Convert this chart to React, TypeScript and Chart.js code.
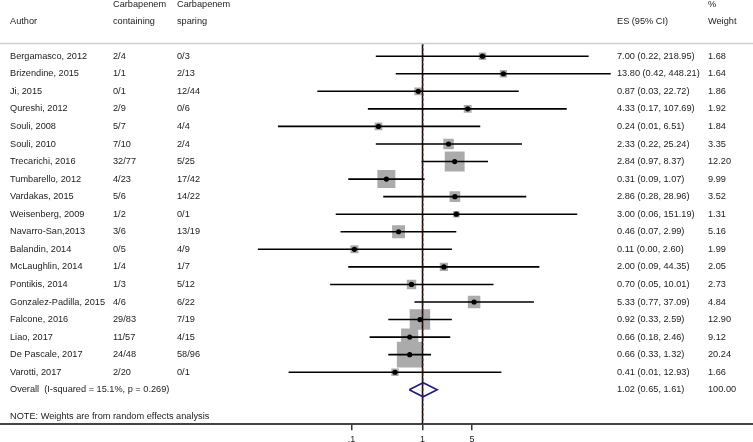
import React, { useEffect, useRef } from "react";
import { Chart, registerables } from "chart.js";

Chart.register(...registerables);

// ---- data ----
const AUTHORS = [
  "Bergamasco, 2012", "Brizendine, 2015", "Ji, 2015", "Qureshi, 2012", "Souli, 2008",
  "Souli, 2010", "Trecarichi, 2016", "Tumbarello, 2012", "Vardakas, 2015", "Weisenberg, 2009",
  "Navarro-San,2013", "Balandin, 2014", "McLaughlin, 2014", "Pontikis, 2014",
  "Gonzalez-Padilla, 2015", "Falcone, 2016", "Liao, 2017", "De Pascale, 2017", "Varotti, 2017",
];
const CONTAINING = ["2/4", "1/1", "0/1", "2/9", "5/7", "7/10", "32/77", "4/23", "5/6", "1/2", "3/6", "0/5", "1/4", "1/3", "4/6", "29/83", "11/57", "24/48", "2/20"];
const SPARING = ["0/3", "2/13", "12/44", "0/6", "4/4", "2/4", "5/25", "17/42", "14/22", "0/1", "13/19", "4/9", "1/7", "5/12", "6/22", "7/19", "4/15", "58/96", "0/1"];
const ES = [7.0, 13.8, 0.87, 4.33, 0.24, 2.33, 2.84, 0.31, 2.86, 3.0, 0.46, 0.11, 2.0, 0.7, 5.33, 0.92, 0.66, 0.66, 0.41];
const CI_LOW = [0.22, 0.42, 0.033, 0.17, 0.0092, 0.22, 0.97, 0.09, 0.28, 0.06, 0.07, 0.0048, 0.09, 0.05, 0.77, 0.33, 0.18, 0.33, 0.013];
const CI_HIGH = [218.95, 448.21, 22.72, 107.69, 6.51, 25.24, 8.37, 1.07, 28.96, 151.19, 2.99, 2.6, 44.35, 10.01, 37.09, 2.59, 2.46, 1.32, 12.93];
const WEIGHTS = [1.68, 1.64, 1.86, 1.92, 1.84, 3.35, 12.2, 9.99, 3.52, 1.31, 5.16, 1.99, 2.05, 2.73, 4.84, 12.9, 9.12, 20.24, 1.66];
const OVERALL_ES = 1.02;
const OVERALL_LOW = 0.65;
const OVERALL_HIGH = 1.61;
const OVERALL_WEIGHT = 100.0;
const OVERALL_LABEL = "Overall  (I-squared = 15.1%, p = 0.269)";
const NOTE = "NOTE: Weights are from random effects analysis";
const NULL_VALUE = 1;
const TICK_VALUES = [0.1, 1, 5];
const TICK_LABELS = [".1", "1", "5"];

// ---- layout ----
const W = 753;
const H = 442;
const X_MIN = 1.12e-6;
const X_MAX = 4.52e4;
const Y_MIN = -3.2;
const Y_MAX = 20.96;
const HEAD1 = -2.92;
const HEAD2 = -1.95;
const HEAD_LINE = -0.744;
const NOTE_ROW = 20.54;
const FONT = '9.2px "Liberation Sans", Arial, sans-serif';
const TEXT = "#222";

export default function App() {
  const ref = useRef<HTMLCanvasElement>(null);

  useEffect(() => {
    document.body.style.margin = "0";
    const canvas = ref.current!;
    const n = AUTHORS.length;
    const overallRow = n;

    const ciData: any[] = [];
    for (let i = 0; i < n; i++) {
      ciData.push({ x: CI_LOW[i], y: i }, { x: CI_HIGH[i], y: i }, { x: null, y: null });
    }
    const pts = ES.map((v, i) => ({ x: v, y: i }));
    const diamond = [
      { x: OVERALL_LOW, y: overallRow },
      { x: OVERALL_ES, y: overallRow - 0.4 },
      { x: OVERALL_HIGH, y: overallRow },
      { x: OVERALL_ES, y: overallRow + 0.4 },
      { x: OVERALL_LOW, y: overallRow },
    ];

    const textPlugin = {
      id: "forestText",
      afterDraw(chart: any) {
        const ctx = chart.ctx;
        const ys = chart.scales.y;
        ctx.save();
        // header rule
        ctx.strokeStyle = "#cfcfcf";
        ctx.lineWidth = 1.5;
        ctx.beginPath();
        const hy = Math.round(ys.getPixelForValue(HEAD_LINE)) + 0.5;
        ctx.moveTo(0, hy);
        ctx.lineTo(W, hy);
        ctx.stroke();

        ctx.font = FONT;
        ctx.fillStyle = TEXT;
        ctx.textBaseline = "middle";
        ctx.textAlign = "left";
        const put = (s: string, x: number, row: number) => ctx.fillText(s, x, ys.getPixelForValue(row));
        put("Carbapenem", 113, HEAD1);
        put("Carbapenem", 177, HEAD1);
        put("%", 708, HEAD1);
        put("Author", 10, HEAD2);
        put("containing", 113, HEAD2);
        put("sparing", 177, HEAD2);
        put("ES (95% CI)", 617, HEAD2);
        put("Weight", 708, HEAD2);
        for (let i = 0; i < n; i++) {
          put(AUTHORS[i], 10, i);
          put(CONTAINING[i], 113, i);
          put(SPARING[i], 177, i);
          put(`${ES[i].toFixed(2)} (${CI_LOW[i].toFixed(2)}, ${CI_HIGH[i].toFixed(2)})`, 617, i);
          put(WEIGHTS[i].toFixed(2), 708, i);
        }
        put(OVERALL_LABEL, 10, overallRow);
        put(`${OVERALL_ES.toFixed(2)} (${OVERALL_LOW.toFixed(2)}, ${OVERALL_HIGH.toFixed(2)})`, 617, overallRow);
        put(OVERALL_WEIGHT.toFixed(2), 708, overallRow);
        put(NOTE, 10, NOTE_ROW);
        ctx.restore();
      },
    };

    const chart = new Chart(canvas, {
      type: "scatter",
      data: {
        datasets: [
          {
            label: "weights",
            data: pts,
            pointStyle: "rect",
            pointRadius: (c: any) => (5.7 * Math.sqrt(WEIGHTS[c.dataIndex] ?? 0)) / Math.SQRT2,
            backgroundColor: "#ababab",
            borderWidth: 0,
            order: 6,
          } as any,
          {
            label: "null",
            data: [{ x: NULL_VALUE, y: HEAD_LINE }, { x: NULL_VALUE, y: Y_MAX }],
            showLine: true,
            borderColor: "#000",
            borderWidth: 1.5,
            pointRadius: 0,
            order: 5,
          },
          {
            label: "overall line",
            data: [{ x: OVERALL_ES, y: HEAD_LINE }, { x: OVERALL_ES, y: Y_MAX }],
            showLine: true,
            borderColor: "#b03a3a",
            borderWidth: 1,
            borderDash: [3, 2],
            pointRadius: 0,
            order: 4,
          },
          {
            label: "ci",
            data: ciData,
            showLine: true,
            spanGaps: false,
            borderColor: "#000",
            borderWidth: 1.6,
            pointRadius: 0,
            order: 3,
          },
          {
            label: "overall",
            data: diamond,
            showLine: true,
            borderColor: "#1e1e78",
            borderWidth: 1.6,
            pointRadius: 0,
            tension: 0,
            order: 2,
          },
          {
            label: "es",
            data: pts,
            pointStyle: "circle",
            pointRadius: 2.6,
            backgroundColor: "#000",
            borderWidth: 0,
            order: 1,
          },
        ],
      },
      options: {
        responsive: false,
        animation: false,
        events: [],
        layout: { padding: { top: 0, left: 0, right: 0, bottom: -7 }, autoPadding: false },
        plugins: { legend: { display: false }, tooltip: { enabled: false } },
        scales: {
          x: {
            type: "logarithmic",
            min: X_MIN,
            max: X_MAX,
            position: "bottom",
            afterBuildTicks: (s: any) => {
              s.ticks = TICK_VALUES.map((v) => ({ value: v }));
            },
            ticks: {
              autoSkip: false,
              maxRotation: 0,
              padding: 4,
              color: TEXT,
              font: { family: '"Liberation Sans", Arial, sans-serif', size: 9 },
              callback: (v: any) => {
                const k = TICK_VALUES.indexOf(Number(v));
                return k >= 0 ? TICK_LABELS[k] : "";
              },
            },
            grid: { drawOnChartArea: false, drawTicks: true, tickLength: 6, color: "#333", lineWidth: 1.5 },
            border: { display: true, color: "#444", width: 2 },
          },
          y: { type: "linear", reverse: true, min: Y_MIN, max: Y_MAX, display: false },
        },
      } as any,
      plugins: [textPlugin],
    });
    return () => chart.destroy();
  }, []);

  return (
    <div style={{ position: "absolute", left: 0, top: 0, width: W, height: H, background: "#fff" }}>
      <canvas ref={ref} width={W} height={H} style={{ display: "block" }} />
    </div>
  );
}
